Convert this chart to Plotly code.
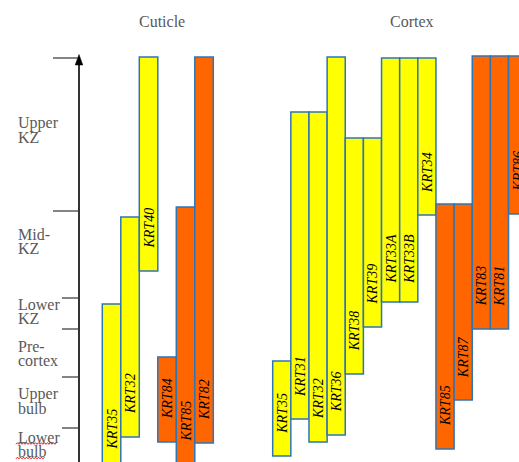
import plotly.graph_objects as go

# ---------------- data (y units measured from the bottom edge of the picture) -------------
zone_line1 = ["Upper", "Mid-", "Lower", "Pre-", "Upper", "Lower"]
zone_line2 = ["KZ", "KZ", "KZ", "cortex", "bulb", "bulb"]
zone_bounds = [404, 251, 164, 133, 85, 34]

cuticle_genes = ["KRT35", "KRT32", "KRT40", "KRT84", "KRT85", "KRT82"]
cuticle_start = [-10, 25, 191, 20, -2, 19]
cuticle_end = [158, 245, 405, 105, 255, 405]

cortex_genes = ["KRT35", "KRT31", "KRT32", "KRT36", "KRT38", "KRT39", "KRT33A",
                "KRT33B", "KRT34", "KRT85", "KRT87", "KRT83", "KRT81", "KRT86"]
cortex_start = [6, 43, 20, 27, 88, 135, 160, 160, 247, 13, 62, 133, 133, 248]
cortex_end = [101, 350, 350, 405, 324, 324, 404, 404, 404, 258, 258, 406, 406, 406]

group_titles = ["Cuticle", "Cortex"]

# ---------------- layout / style constants ----------------
W, H = 519, 462
CUT_X0, CUT_PITCH = 102.3, 18.5
COR_X0, COR_PITCH = 272.7, 18.14
TYPE1 = "#FFFF00"
TYPE2 = "#FF6600"
EDGE = "#2E75B6"
GRAY = "#595959"
SERIF = "Liberation Serif, Times New Roman, serif"
LABEL_OFFSET = 43
label_centers = [332, 220.5, 151, 109, 61, 18]
title_x = [162, 411.5]
AXIS_X = 79


def colour(g):
    n = int("".join(c for c in g[3:] if c.isdigit()))
    return TYPE1 if n < 80 else TYPE2


fig = go.Figure()
annotations = []
shapes = []

for genes, starts, ends, x0, pitch in [
    (cuticle_genes, cuticle_start, cuticle_end, CUT_X0, CUT_PITCH),
    (cortex_genes, cortex_start, cortex_end, COR_X0, COR_PITCH),
]:
    xs = [x0 + pitch * (i + 0.5) for i in range(len(genes))]
    fig.add_trace(go.Bar(
        x=xs,
        y=[e - s for s, e in zip(starts, ends)],
        base=starts,
        width=[pitch] * len(genes),
        marker=dict(color=[colour(g) for g in genes],
                    line=dict(color=EDGE, width=1.5)),
        hoverinfo="skip",
        showlegend=False,
    ))
    for x, g, s in zip(xs, genes, starts):
        annotations.append(dict(
            x=x, y=s + LABEL_OFFSET, xref="x", yref="y", text=g,
            textangle=-90, showarrow=False, xanchor="center", yanchor="middle",
            font=dict(family=SERIF, size=14, color="black", style="italic"),
        ))

# zone labels
for l1, l2, yc in zip(zone_line1, zone_line2, label_centers):
    for txt, dy in [(l1, 7), (l2, -7)]:
        annotations.append(dict(
            x=16, y=yc + dy, xref="x", yref="y", text=txt, showarrow=False,
            xanchor="left", yanchor="middle",
            font=dict(family=SERIF, size=16, color=GRAY),
        ))

# group titles
for t, tx in zip(group_titles, title_x):
    annotations.append(dict(
        x=tx, y=441, xref="x", yref="y", text=t, showarrow=False,
        xanchor="center", yanchor="middle",
        font=dict(family=SERIF, size=16, color=GRAY),
    ))

# axis line + arrow head
shapes.append(dict(type="line", x0=AXIS_X, x1=AXIS_X, y0=-15, y1=399,
                   line=dict(color="black", width=1.6)))
shapes.append(dict(type="path",
                   path=f"M {AXIS_X-3.8} 397 L {AXIS_X+3.8} 397 L {AXIS_X} 407.5 Z",
                   fillcolor="black", line=dict(color="black", width=0.5)))

# ticks
for i, b in enumerate(zone_bounds):
    xl = 53 if i < 2 else 62
    shapes.append(dict(type="line", x0=xl, x1=AXIS_X - 1, y0=b, y1=b,
                       line=dict(color="#333333", width=1.2)))

# spell-check squiggles under "Lower bulb"
for (sx0, sx1, sy) in [(16, 57, 18.5), (16, 45, 4)]:
    pts = []
    x = sx0
    k = 0
    while x <= sx1:
        pts.append(f"{x} {sy + (0.8 if k % 2 else -0.8)}")
        x += 1.5
        k += 1
    shapes.append(dict(type="path", path="M " + " L ".join(pts),
                       line=dict(color="red", width=1)))

fig.update_layout(
    width=W, height=H,
    margin=dict(l=0, r=0, t=0, b=0),
    paper_bgcolor="white", plot_bgcolor="white",
    xaxis=dict(range=[0, W], visible=False, fixedrange=True),
    yaxis=dict(range=[0, H], visible=False, fixedrange=True),
    barmode="overlay",
    annotations=annotations,
    shapes=shapes,
    showlegend=False,
    hovermode=False,
)

fig.write_html(
    "out.html",
    config={"displayModeBar": False, "staticPlot": True},
    post_script="document.body.style.margin='0';document.body.style.overflow='hidden';",
)
